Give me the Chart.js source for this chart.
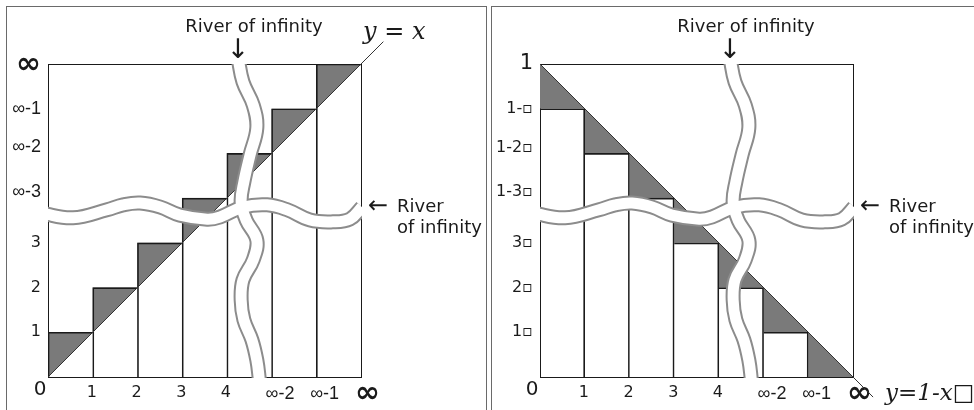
<!DOCTYPE html>
<html>
<head>
<meta charset="utf-8">
<script src="https://cdn.jsdelivr.net/npm/chart.js@4.4.1/dist/chart.umd.min.js"></script>
<style>
  body { margin: 0; background: #fff; }
  #wrap { position: relative; width: 974px; height: 410px; overflow: hidden; }
  canvas { position: absolute; top: 0; }
  .frame { position: absolute; top: 6px; height: 430px; border: 1.5px solid #6a6a6a; border-bottom: none; }
</style>
</head>
<body>
<div id="wrap">
  <div class="frame" style="left:6px;width:479px;"></div>
  <div class="frame" style="left:491px;width:500px;border-right:none;"></div>
  <canvas id="left" width="487" height="410" style="left:0"></canvas>
  <canvas id="right" width="487" height="410" style="left:487px"></canvas>
</div>
<script>
// cells along both axes (1..7, last one is "infinity")
const cells = [1, 2, 3, 4, 5, 6, 7];
const xTickLabels = ['1', '2', '3', '4', '∞-2', '∞-1', '∞'];
const leftYLabels = ['1', '2', '3', '∞-3', '∞-2', '∞-1', '∞'];
const rightYLabels = ['1▫', '2▫', '3▫', '1-3▫', '1-2▫', '1-▫', '1'];

// bar tops
const leftHeights = [1, 2, 3, 4, 5, 6, 7];
const rightHeights = [6, 5, 4, 3, 2, 1, 0];
// where the staircase starts (left edge of first triangle)
const leftStart = 0;
const rightStart = 7;

// y = x and y = 1 - x, with the bit sticking out to the label
const leftDiagonal = [[0, 0], [7.5, 7.5]];
const rightDiagonal = [[0, 7], [7.45, -0.45]];

// the two "rivers of infinity", in axis units
const riverDown = [
  [4.25, 7.13], [4.36, 6.60], [4.59, 6.08], [4.67, 5.57], [4.52, 4.97],
  [4.38, 4.36], [4.32, 3.91], [4.43, 3.51], [4.67, 3.06], [4.59, 2.62],
  [4.36, 2.17], [4.32, 1.72], [4.38, 1.28], [4.56, 0.83], [4.67, 0.38],
  [4.72, 0], [4.74, -0.29]
];
const riverAcross = [
  [-0.18, 3.67], [0.56, 3.56], [1.32, 3.74], [1.68, 3.85], [2.06, 3.89],
  [2.51, 3.80], [2.95, 3.62], [3.56, 3.53], [3.85, 3.58], [4.36, 3.80],
  [4.90, 3.85], [5.35, 3.74], [5.86, 3.51], [6.37, 3.47], [6.75, 3.53],
  [7.02, 3.80], [7.16, 3.96]
];

const ink = '#1a1a1a';
const pts = list => list.map(([x, y]) => ({x, y}));
// labels just above the river sit a little higher than their tick
const liftedRows = [4, 5];

function triangles(heights, start) {
  const out = [];
  heights.forEach((h, i) => {
    const prev = i === 0 ? start : heights[i - 1];
    out.push({x: i, y: prev}, {x: i, y: h}, {x: i + 1, y: h}, {x: null, y: null});
  });
  return out;
}

// text that is not part of the axes
const notesPlugin = {
  id: 'notes',
  afterDraw(chart, args, opts) {
    const {ctx, chartArea: a} = chart;
    ctx.save();
    ctx.fillStyle = ink;
    ctx.textBaseline = 'middle';
    opts.items.forEach(n => {
      ctx.font = n.font;
      ctx.textAlign = n.align || 'left';
      ctx.fillText(n.text, a.left + n.dx, a.top + n.dy);
    });
    ctx.restore();
  }
};

function makeChart(id, heights, start, yLabels, diagonal, barBorder, axisWidth, padRight, yBig, notes) {
  const setTicks = s => { s.ticks = cells.map(v => ({value: v})); };
  const frameAxis = pos => ({
    type: 'linear', position: pos, min: 0, max: 7, display: true,
    grid: {display: false, drawTicks: false},
    ticks: {display: false},
    border: {color: ink, width: 1},
    afterFit: s => { if (pos === 'top') s.height = 0; else s.width = 0; }
  });
  const riverClip = {left: 0, top: 0, right: 1, bottom: 1};
  const plain = {family: 'DejaVu Sans', size: 16};
  const infFont = {family: '"Liberation Sans"', size: 18};

  return new Chart(document.getElementById(id), {
    type: 'line',
    data: {
      datasets: [
        {
          type: 'bar',
          data: heights.map((h, i) => ({x: i + 0.5, y: h})),
          backgroundColor: 'rgba(0,0,0,0)',
          borderColor: ink,
          borderWidth: barBorder,
          borderSkipped: false,
          barPercentage: 1,
          categoryPercentage: 1,
          order: 5
        },
        {
          data: triangles(heights, start),
          fill: 'shape',
          backgroundColor: '#7a7a7a',
          borderWidth: 0,
          spanGaps: false,
          order: 6
        },
        {
          data: pts(diagonal),
          borderColor: '#333',
          borderWidth: 1,
          clip: false,
          order: 4
        },
        {data: pts(riverDown), borderColor: '#8c8c8c', borderWidth: 15, tension: 0.4, clip: riverClip, order: 3},
        {data: pts(riverAcross), borderColor: '#8c8c8c', borderWidth: 15, tension: 0.4, clip: riverClip, order: 3},
        {data: pts(riverDown), borderColor: '#fff', borderWidth: 11, tension: 0.4, clip: riverClip, order: 2},
        {data: pts(riverAcross), borderColor: '#fff', borderWidth: 11, tension: 0.4, clip: riverClip, order: 2}
      ]
    },
    options: {
      responsive: false,
      animation: false,
      events: [],
      layout: {padding: {left: 0, top: 64, right: padRight, bottom: 0}},
      elements: {
        point: {radius: 0},
        line: {capBezierPoints: false, borderCapStyle: 'butt', borderJoinStyle: 'round'}
      },
      plugins: {
        legend: {display: false},
        tooltip: {enabled: false},
        notes: {items: notes}
      },
      scales: {
        x: {
          type: 'linear', min: 0, max: 7, offset: false,
          grid: {display: false, drawTicks: false, offset: false},
          border: {color: ink, width: 1},
          afterBuildTicks: setTicks,
          afterFit: s => { s.height = 33; },
          ticks: {
            autoSkip: false, maxRotation: 0, align: 'start', labelOffset: -6, padding: 6,
            color: ink,
            font: c => {
              if (!c.tick) return plain;
              if (c.tick.value === 7) return {family: '"Noto Sans", "DejaVu Sans"', size: 30, weight: 'bold', lineHeight: 0.7};
              return c.tick.value > 4 ? infFont : plain;
            },
            callback: v => xTickLabels[cells.indexOf(v)]
          }
        },
        y: {
          type: 'linear', min: 0, max: 7,
          grid: {display: false, drawTicks: false},
          border: {color: ink, width: 1},
          afterBuildTicks: setTicks,
          afterFit: s => { s.width = axisWidth; },
          ticks: {
            autoSkip: false, padding: 7, color: ink,
            font: c => {
              if (!c.tick) return plain;
              if (c.tick.value === 7) return yBig;
              const f = yLabels === leftYLabels && c.tick.value > 3 ? infFont : plain;
              return liftedRows.includes(c.tick.value) ? Object.assign({}, f, {lineHeight: '12px'}) : f;
            },
            callback: v => {
              const t = yLabels[cells.indexOf(v)];
              return liftedRows.includes(v) ? [t, ''] : t;
            }
          }
        },
        xTop: frameAxis('top'),
        yRight: frameAxis('right')
      }
    },
    plugins: [notesPlugin]
  });
}

const sans = '18px "DejaVu Sans"';
const riverNotes = [
  {text: 'River of infinity', dx: 206, dy: -37, font: sans, align: 'center'},
  {text: '↓', dx: 190, dy: -13, font: '27px "DejaVu Sans"', align: 'center'},
  {text: '←', dx: 330, dy: 143, font: '24px "DejaVu Sans"', align: 'center'},
  {text: 'River', dx: 349, dy: 143, font: sans},
  {text: 'of infinity', dx: 349, dy: 164, font: sans},
  {text: '0', dx: -8, dy: 326, font: '20px "DejaVu Sans"', align: 'center'}
];

makeChart('left', leftHeights, leftStart, leftYLabels, leftDiagonal,
  {top: 1, left: 1}, 48, 126,
  {family: '"Noto Sans", "DejaVu Sans"', size: 30, weight: 'bold'},
  riverNotes.concat([{text: 'y = x', dx: 315, dy: -31, font: 'italic 24px "DejaVu Serif"'}]));

makeChart('right', rightHeights, rightStart, rightYLabels, rightDiagonal,
  {top: 1, right: 1}, 53, 121,
  {family: 'DejaVu Sans', size: 21},
  riverNotes.concat([{text: 'y=1-x□', dx: 345, dy: 330, font: 'italic 23px "DejaVu Serif"'}]));
</script>
</body>
</html>
